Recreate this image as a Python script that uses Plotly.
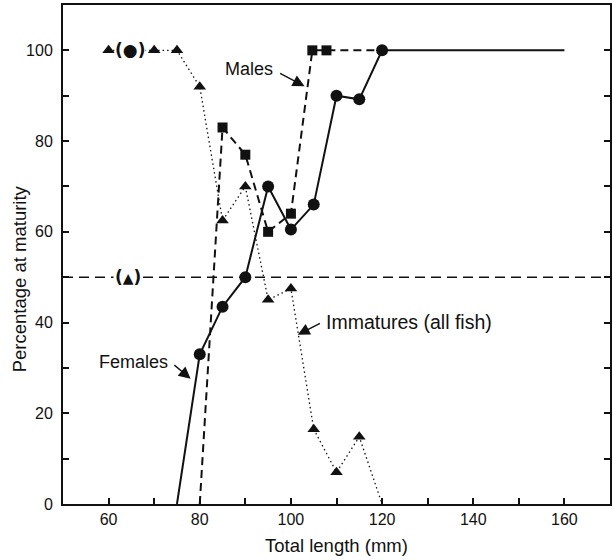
import plotly.graph_objects as go

# Data
female_x = [75, 80, 85, 90, 95, 100, 105, 110, 115, 120, 160]
female_y = [0, 33, 43.5, 50, 70, 60.5, 66, 90, 89.2, 100, 100]

male_x = [80, 85, 90, 95, 100, 104.7, 107.8, 120]
male_y = [0, 83, 77, 60, 64, 100, 100, 100]

imm_x = [60, 70, 75, 80, 85, 90, 95, 100, 105, 110, 115, 120]
imm_y = [100, 100, 100, 92, 62.5, 70, 45, 47.5, 16.5, 7, 14.8, 0]

ref_x = [50, 170]
ref_y = [50, 50]

x_range = [50, 170]
y_range = [0, 110]

FONT = "Liberation Sans, Arial, Helvetica, sans-serif"
BLACK = "#111111"

fig = go.Figure()

# 50% reference line
fig.add_trace(go.Scatter(x=ref_x, y=ref_y, mode="lines",
                         line=dict(color=BLACK, width=1.6, dash="10px,6px"),
                         hoverinfo="skip"))

# Immatures (dotted)
fig.add_trace(go.Scatter(x=imm_x, y=imm_y, mode="lines",
                         line=dict(color=BLACK, width=1.3, dash="1.5px,3px")))
fig.add_trace(go.Scatter(x=imm_x[:-1], y=imm_y[:-1], mode="markers",
                         marker=dict(symbol="triangle-up", size=11, color=BLACK)))

# Males (dashed)
fig.add_trace(go.Scatter(x=male_x, y=male_y, mode="lines",
                         line=dict(color=BLACK, width=2, dash="8px,5px")))
fig.add_trace(go.Scatter(x=male_x[1:-1], y=male_y[1:-1], mode="markers",
                         marker=dict(symbol="square", size=10, color=BLACK)))

# Females (solid)
fig.add_trace(go.Scatter(x=female_x, y=female_y, mode="lines",
                         line=dict(color=BLACK, width=2)))
fig.add_trace(go.Scatter(x=female_x[1:-1], y=female_y[1:-1], mode="markers",
                         marker=dict(symbol="circle", size=12, color=BLACK)))

annotations = [
    # key labels on the lines
    dict(x=64.8, y=100, text="<b>(</b>●<b>)</b>", showarrow=False,
         font=dict(family="DejaVu Sans", size=17, color=BLACK),
         bgcolor="white", borderpad=0),
    dict(x=64.2, y=50, text="<b>(</b><span style='font-size:14px'>▲</span><b>)</b>", showarrow=False,
         font=dict(family="DejaVu Sans", size=17, color=BLACK),
         bgcolor="white", borderpad=1),
    # text labels
    dict(x=96.6, y=95.8, text="Males", showarrow=False, xanchor="right",
         font=dict(family=FONT, size=18, color=BLACK)),
    dict(x=65.4, y=31.3, text="Females", showarrow=False,
         font=dict(family=FONT, size=18, color=BLACK)),
    dict(x=107.3, y=40.2, text="Immatures (all fish)", showarrow=False, xanchor="left",
         font=dict(family=FONT, size=19.5, color=BLACK)),
    # arrows
    dict(x=103.0, y=92.1, ax=97.3, ay=95.1, axref="x", ayref="y", text="",
         showarrow=True, arrowhead=2, arrowsize=1.7, arrowwidth=1.4, arrowcolor=BLACK),
    dict(x=78.0, y=27.6, ax=74.1, ay=30.9, axref="x", ayref="y", text="",
         showarrow=True, arrowhead=2, arrowsize=1.7, arrowwidth=1.4, arrowcolor=BLACK),
    dict(x=101.5, y=37.3, ax=106.7, ay=40.0, axref="x", ayref="y", text="",
         showarrow=True, arrowhead=2, arrowsize=1.7, arrowwidth=1.4, arrowcolor=BLACK),
    # axis titles
    dict(x=0.5, y=-0.084, xref="paper", yref="paper", text="Total length (mm)",
         showarrow=False, yanchor="middle",
         font=dict(family=FONT, size=18.5, color=BLACK)),
    dict(x=-0.078, y=0.451, xref="paper", yref="paper", text="Percentage at maturity",
         showarrow=False, textangle=-90, xanchor="center", yanchor="middle",
         font=dict(family=FONT, size=18.5, color=BLACK)),
]

fig.update_layout(
    width=614, height=560,
    margin=dict(l=63, r=2, t=5, b=56),
    paper_bgcolor="white", plot_bgcolor="white",
    showlegend=False,
    annotations=annotations,
    font=dict(family=FONT, color=BLACK),
)

fig.update_xaxes(range=x_range, tick0=60, dtick=20, ticks="inside", ticklen=6,
                 tickwidth=1.5, tickcolor=BLACK,
                 minor=dict(dtick=10, tick0=60, ticks="inside", ticklen=6, tickwidth=1.5, tickcolor=BLACK),
                 showline=True, linecolor=BLACK, linewidth=2, mirror=True,
                 showgrid=False, zeroline=False,
                 tickfont=dict(family=FONT, size=16, color=BLACK))
fig.update_yaxes(range=y_range, tick0=0, dtick=20, ticks="inside", ticklen=6,
                 tickwidth=1.5, tickcolor=BLACK,
                 minor=dict(dtick=10, tick0=0, ticks="inside", ticklen=6, tickwidth=1.5, tickcolor=BLACK),
                 showline=True, linecolor=BLACK, linewidth=2, mirror="ticks",
                 showgrid=False, zeroline=False, ticklabelstandoff=5,
                 tickfont=dict(family=FONT, size=16, color=BLACK))

fig.write_html("out.html", config={"displayModeBar": False},
               post_script="document.body.style.margin='0';document.body.style.padding='0';")
